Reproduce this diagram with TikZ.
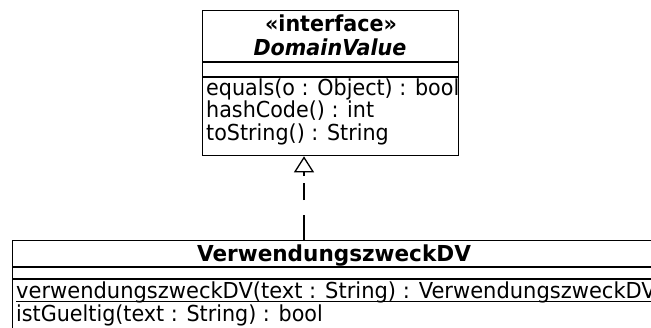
\documentclass[tikz,border=0pt]{standalone}
\usepackage{fontspec}
\setmainfont{DejaVu Sans}[FakeStretch=0.94]
\newfontfamily\widefont{DejaVu Sans}[FakeStretch=0.955]
\newfontfamily\titlefont{DejaVu Sans}[FakeStretch=0.98]
\usetikzlibrary{calc,arrows.meta}
\begin{document}
\begin{tikzpicture}[x=1pt,y=-1pt,
  font=\fontsize{22}{23}\selectfont,
  umlbox/.style={draw, line width=1.3pt, rectangle, inner sep=0pt, anchor=north west},
  sep/.style={line width=1.3pt},
  optext/.style={inner sep=0pt, anchor=base west},
  titletext/.style={inner sep=0pt, anchor=base, font=\fontsize{22}{23}\selectfont\bfseries},
  realize/.style={line width=1.3pt, dash pattern=on 25pt off 15pt on 17pt off 7pt on 12pt off 0pt,
    -{Triangle[open, width=20pt, length=16pt, line width=1.3pt, fill=white]}}]
\useasboundingbox (0,0) rectangle (651,327);
\clip (0,0) rectangle (651,327);
% interface DomainValue
\node[umlbox, minimum width=256pt, minimum height=145pt] (dv) at (202,10) {};
\draw[sep] ($(dv.north west)+(0,52)$) -- ($(dv.north east)+(0,52)$);
\draw[sep] ($(dv.north west)+(0,67)$) -- ($(dv.north east)+(0,67)$);
\node[titletext] (st) at (331,31) {«interface»};
\node[titletext, font=\fontsize{22}{23}\selectfont\bfseries\itshape] (dn) at (330,55) {DomainValue};
\node[optext] (o1) at (206,95) {equals(o : Object) : bool};
\node[optext] (o2) at (206,117.5) {hashCode() : int};
\node[optext] (o3) at (206,140) {toString() : String};
% class VerwendungszweckDV
\node[umlbox, minimum width=650pt, minimum height=120pt] (vz) at (12,240) {};
\draw[sep] ($(vz.north west)+(0,27)$) -- ($(vz.north east)+(0,27)$);
\draw[sep] ($(vz.north west)+(0,39)$) -- ($(vz.north east)+(0,39)$);
\node[titletext, font=\fontsize{22}{23}\selectfont\titlefont\bfseries] (vt) at (334,261) {VerwendungszweckDV};
\node[optext, font=\fontsize{22}{23}\selectfont\widefont] (p1) at (16,298) {verwendungszweckDV(text : String) : VerwendungszweckDV};
\draw[line width=1pt] ($(p1.base west)+(0,3)$) -- ($(p1.base east)+(0,3)$);
\node[optext] (p2) at (16,321) {istGueltig(text : String) : bool};
% realization
\coordinate (rb) at (vz.north -| 304,0);
\coordinate (rt) at (dv.south -| 304,0);
\draw[realize] (rb) -- (rt);
\end{tikzpicture}
\end{document}
